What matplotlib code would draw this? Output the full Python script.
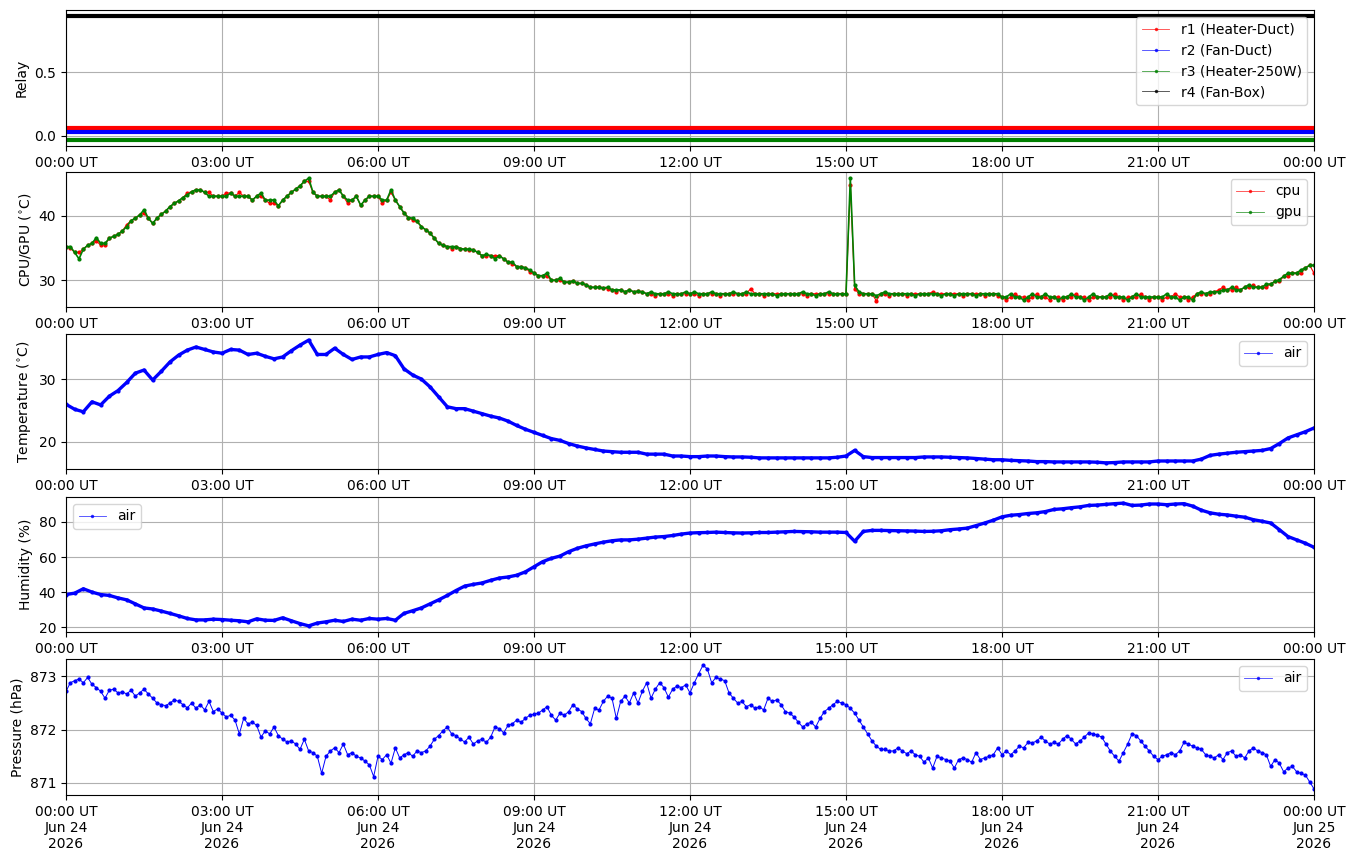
import numpy as np
import pandas as pd
import matplotlib
matplotlib.use("Agg")
import matplotlib.pyplot as plt
import matplotlib.dates as mdates
from matplotlib.lines import Line2D

# ---------------- data ----------------
t5 = pd.date_range("2026-06-24 00:00", "2026-06-25 00:00", freq="5min")
t10 = pd.date_range("2026-06-24 00:00", "2026-06-25 00:00", freq="10min")

relay_r1 = [0] * len(t5)
relay_r2 = [0] * len(t5)
relay_r3 = [0] * len(t5)
relay_r4 = [1] * len(t5)
relay_offsets = [0.06, 0.03, -0.03, -0.06]
relay_labels = ["r1 (Heater-Duct)", "r2 (Fan-Duct)", "r3 (Heater-250W)", "r4 (Fan-Box)"]

cpu = [
    35.2, 35.0, 34.3, 34.3, 34.8, 35.4, 35.7, 36.1, 35.4, 35.5, 36.5, 36.8,
    37.1, 37.6, 38.6, 39.2, 39.6, 40.1, 40.4, 39.6, 38.8, 39.6, 40.2, 40.7,
    41.4, 41.9, 42.3, 42.8, 43.5, 43.7, 44.0, 44.0, 43.6, 43.6, 43.0, 43.0,
    43.0, 43.5, 43.5, 43.0, 43.6, 43.0, 43.0, 42.4, 43.0, 43.0, 42.4, 41.9,
    41.9, 41.5, 42.4, 43.0, 43.6, 44.1, 44.6, 45.3, 45.3, 43.6, 43.0, 43.0,
    43.0, 42.4, 43.6, 44.0, 43.0, 41.9, 42.4, 43.0, 41.6, 42.4, 43.0, 43.0,
    43.0, 41.9, 42.4, 43.6, 42.4, 41.4, 40.4, 39.7, 39.3, 39.1, 38.3, 37.8,
    37.3, 36.5, 35.7, 35.4, 35.2, 34.9, 35.2, 34.9, 34.8, 34.7, 34.7, 34.3,
    33.8, 33.8, 33.8, 33.8, 33.8, 33.3, 32.8, 32.5, 32.1, 32.1, 31.9, 31.3,
    31.1, 30.7, 30.7, 30.7, 30.0, 30.0, 30.0, 29.7, 29.7, 29.9, 29.5, 29.5,
    29.3, 28.9, 28.9, 28.9, 28.8, 28.7, 28.5, 28.2, 28.5, 28.2, 28.5, 28.2,
    28.3, 28.2, 27.9, 27.9, 27.6, 27.9, 27.9, 27.9, 27.6, 27.9, 27.9, 27.9,
    27.9, 27.9, 27.6, 27.9, 27.9, 27.9, 27.9, 27.6, 27.9, 27.9, 27.9, 27.9,
    27.9, 27.9, 28.7, 27.9, 27.9, 27.6, 27.9, 27.9, 27.9, 27.9, 27.9, 27.9,
    27.9, 27.9, 27.9, 27.6, 27.9, 27.9, 27.9, 27.9, 27.9, 27.9, 27.9, 27.9,
    27.9, 44.8, 28.7, 27.9, 27.9, 27.9, 27.9, 26.8, 27.9, 27.9, 27.6, 27.9,
    27.9, 27.9, 27.6, 27.9, 27.9, 27.9, 27.9, 27.9, 28.2, 27.9, 27.9, 27.9,
    27.9, 27.9, 27.9, 27.6, 27.9, 27.9, 27.9, 27.9, 27.6, 27.9, 27.9, 27.6,
    27.4, 26.9, 27.4, 27.9, 27.4, 27.4, 26.9, 27.4, 27.9, 27.4, 27.4, 26.9,
    27.4, 27.4, 26.9, 27.4, 27.4, 27.9, 27.4, 27.4, 26.9, 27.4, 27.4, 27.4,
    27.4, 27.4, 27.9, 27.4, 26.9, 27.4, 27.4, 27.4, 27.9, 27.4, 26.9, 27.4,
    27.4, 26.9, 27.4, 27.4, 27.9, 27.4, 27.4, 26.9, 27.4, 27.9, 27.9, 27.9,
    27.9, 28.2, 28.5, 28.9, 28.5, 28.5, 28.9, 28.5, 28.9, 28.9, 29.2, 28.9,
    28.9, 28.9, 29.4, 29.8, 29.8, 30.6, 30.6, 31.1, 31.1, 31.1, 31.9, 32.3,
    31.1,
]

gpu = [
    35.2, 35.2, 34.3, 33.3, 34.8, 35.4, 35.7, 36.6, 35.7, 35.7, 36.5, 36.8,
    37.1, 37.6, 38.3, 39.2, 39.6, 40.1, 40.9, 39.6, 38.8, 39.6, 40.2, 40.7,
    41.4, 41.9, 42.3, 42.8, 43.2, 43.7, 44.0, 44.0, 43.6, 43.0, 43.0, 43.0,
    43.0, 43.0, 43.5, 43.0, 43.0, 43.0, 43.0, 42.4, 43.0, 43.5, 42.4, 42.4,
    42.4, 41.5, 42.4, 43.0, 43.6, 44.1, 44.6, 45.3, 45.8, 43.6, 43.0, 43.0,
    43.0, 43.0, 43.6, 44.0, 43.0, 42.4, 42.4, 43.0, 41.6, 42.4, 43.0, 43.0,
    43.0, 42.4, 42.4, 44.0, 42.4, 41.4, 40.4, 39.7, 39.6, 39.1, 38.3, 37.8,
    37.3, 36.5, 35.7, 35.4, 35.2, 35.2, 35.2, 34.9, 34.8, 34.8, 34.7, 34.3,
    33.8, 34.0, 33.8, 33.3, 33.8, 33.3, 32.8, 32.8, 32.1, 32.1, 31.9, 31.6,
    31.1, 30.7, 30.7, 31.1, 30.0, 30.0, 30.3, 29.7, 29.7, 29.9, 29.5, 29.5,
    29.3, 28.9, 28.9, 28.9, 28.8, 28.9, 28.5, 28.5, 28.5, 28.2, 28.5, 28.2,
    28.3, 28.2, 27.9, 28.2, 27.9, 27.9, 27.9, 28.2, 27.9, 27.9, 27.9, 28.2,
    27.9, 28.2, 27.9, 27.9, 27.9, 28.2, 27.9, 27.9, 27.9, 27.9, 28.2, 27.9,
    27.9, 28.2, 27.9, 27.9, 27.9, 27.9, 27.9, 27.9, 27.6, 27.9, 27.9, 27.9,
    27.9, 27.9, 28.2, 27.9, 27.9, 27.6, 27.9, 27.9, 28.2, 27.9, 27.9, 27.9,
    27.9, 45.8, 29.2, 28.2, 27.9, 27.9, 27.9, 27.6, 27.9, 28.2, 27.9, 27.9,
    27.9, 27.9, 27.9, 27.9, 27.6, 27.9, 27.9, 27.9, 27.9, 27.9, 27.6, 27.9,
    27.9, 27.6, 27.9, 27.9, 27.9, 27.9, 27.6, 27.9, 27.9, 27.9, 27.9, 27.9,
    27.4, 27.4, 27.9, 27.4, 27.4, 26.9, 27.4, 27.9, 27.4, 27.4, 27.9, 27.4,
    27.4, 26.9, 27.4, 27.4, 27.9, 27.4, 27.4, 26.9, 27.4, 27.9, 27.4, 27.4,
    27.4, 27.9, 27.4, 27.4, 27.4, 26.9, 27.4, 27.9, 27.4, 27.4, 27.4, 27.4,
    27.4, 27.4, 27.9, 27.4, 27.4, 26.9, 27.4, 27.4, 26.9, 27.9, 28.2, 27.9,
    28.2, 28.2, 28.2, 28.5, 28.5, 28.9, 28.5, 28.5, 28.9, 29.3, 28.9, 28.9,
    28.9, 29.4, 29.4, 29.8, 30.1, 30.6, 31.1, 31.1, 31.1, 31.6, 31.9, 32.3,
    32.3,
]

air_temp = [
    26.0, 25.2, 24.8, 26.4, 25.9, 27.3,
    28.2, 29.5, 31.0, 31.5, 29.9, 31.3,
    32.8, 33.9, 34.7, 35.2, 34.8, 34.4,
    34.2, 34.8, 34.7, 34.0, 34.2, 33.7,
    33.3, 33.6, 34.6, 35.5, 36.3, 34.0,
    34.0, 35.0, 34.0, 33.2, 33.6, 33.6,
    34.0, 34.3, 33.8, 31.7, 30.7, 30.05,
    28.8, 27.2, 25.6, 25.3, 25.3, 24.9,
    24.5, 24.1, 23.8, 23.3, 22.6, 22.0,
    21.5, 21.0, 20.5, 20.2, 19.7, 19.3,
    19.0, 18.75, 18.5, 18.4, 18.3, 18.3,
    18.3, 18.0, 18.0, 18.0, 17.7, 17.7,
    17.6, 17.6, 17.7, 17.7, 17.6, 17.55,
    17.55, 17.5, 17.4, 17.4, 17.4, 17.4,
    17.4, 17.4, 17.4, 17.4, 17.4, 17.5,
    17.7, 18.6, 17.6, 17.45, 17.45, 17.45,
    17.45, 17.45, 17.45, 17.55, 17.55, 17.55,
    17.5, 17.45, 17.4, 17.3, 17.2, 17.1,
    17.1, 17.0, 16.95, 16.9, 16.8, 16.8,
    16.75, 16.75, 16.75, 16.75, 16.75, 16.7,
    16.6, 16.65, 16.75, 16.75, 16.75, 16.75,
    16.9, 16.9, 16.9, 16.9, 16.9, 17.2,
    17.8, 18.0, 18.15, 18.3, 18.4, 18.5,
    18.6, 18.9, 19.7, 20.6, 21.1, 21.6,
    22.2,
]

air_humidity = [
    38.7, 39.5, 42.0, 40.1, 38.7, 38.2,
    36.8, 35.7, 33.4, 31.1, 30.5, 29.3,
    28.0, 26.6, 25.1, 24.3, 24.3, 24.7,
    24.5, 24.1, 23.8, 23.2, 24.9, 24.1,
    24.0, 25.5, 23.8, 22.2, 20.9, 22.5,
    23.2, 24.1, 23.4, 24.7, 24.1, 25.1,
    24.7, 25.1, 24.1, 28.0, 29.5, 31.1,
    33.4, 35.7, 38.2, 41.0, 43.5, 44.5,
    45.3, 46.8, 48.1, 48.7, 49.7, 51.6,
    54.5, 57.4, 59.3, 60.6, 63.1, 65.0,
    66.4, 67.5, 68.5, 69.3, 69.8, 69.8,
    70.2, 70.8, 71.4, 71.7, 72.3, 73.1,
    73.7, 73.9, 74.0, 74.2, 74.0, 73.8,
    73.7, 73.8, 74.0, 74.0, 74.2, 74.4,
    74.6, 74.5, 74.4, 74.2, 74.2, 74.2,
    74.0, 69.0, 74.6, 75.2, 75.2, 75.1,
    75.0, 74.9, 74.8, 74.6, 74.7, 75.0,
    75.6, 76.0, 76.5, 77.9, 79.4, 81.0,
    82.9, 83.8, 84.2, 84.8, 85.2, 85.9,
    87.1, 87.5, 88.1, 88.6, 89.4, 89.6,
    90.0, 90.4, 90.7, 89.4, 89.6, 90.2,
    90.2, 89.8, 90.2, 90.4, 89.0, 86.7,
    85.2, 84.4, 84.0, 83.3, 82.7, 81.3,
    80.4, 79.4, 75.6, 71.7, 69.8, 67.9,
    65.6,
]

air_pressure = [
    872.72, 872.88, 872.92, 872.95, 872.88, 872.98, 872.85, 872.79, 872.72, 872.59, 872.74, 872.76,
    872.69, 872.71, 872.67, 872.74, 872.63, 872.69, 872.76, 872.67, 872.59, 872.50, 872.47, 872.45,
    872.50, 872.56, 872.53, 872.47, 872.41, 872.50, 872.40, 872.47, 872.37, 872.53, 872.34, 872.39,
    872.31, 872.24, 872.27, 872.18, 871.92, 872.21, 872.11, 872.14, 872.08, 871.86, 871.98, 871.92,
    872.05, 871.89, 871.82, 871.77, 871.79, 871.73, 871.63, 871.82, 871.60, 871.57, 871.50, 871.18,
    871.50, 871.60, 871.66, 871.57, 871.73, 871.53, 871.57, 871.50, 871.47, 871.41, 871.34, 871.12,
    871.50, 871.44, 871.53, 871.37, 871.66, 871.47, 871.53, 871.57, 871.50, 871.60, 871.57, 871.60,
    871.69, 871.82, 871.89, 871.98, 872.05, 871.92, 871.89, 871.82, 871.77, 871.86, 871.73, 871.79,
    871.82, 871.76, 871.86, 872.05, 872.02, 871.94, 872.08, 872.11, 872.18, 872.14, 872.21, 872.27,
    872.29, 872.31, 872.37, 872.43, 872.27, 872.18, 872.31, 872.27, 872.34, 872.47, 872.39, 872.34,
    872.21, 872.11, 872.40, 872.37, 872.53, 872.63, 872.59, 872.21, 872.53, 872.63, 872.50, 872.69,
    872.50, 872.72, 872.88, 872.59, 872.76, 872.88, 872.79, 872.61, 872.76, 872.82, 872.79, 872.84,
    872.69, 872.88, 873.05, 873.21, 873.14, 872.88, 872.98, 872.95, 872.92, 872.69, 872.59, 872.50,
    872.53, 872.43, 872.47, 872.40, 872.43, 872.37, 872.59, 872.53, 872.56, 872.47, 872.34, 872.31,
    872.24, 872.14, 872.05, 872.11, 872.14, 872.05, 872.21, 872.34, 872.40, 872.47, 872.53, 872.50,
    872.47, 872.40, 872.31, 872.18, 872.05, 871.92, 871.79, 871.69, 871.63, 871.63, 871.60, 871.60,
    871.66, 871.60, 871.55, 871.60, 871.53, 871.50, 871.39, 871.47, 871.28, 871.50, 871.47, 871.44,
    871.41, 871.28, 871.44, 871.47, 871.44, 871.39, 871.57, 871.44, 871.47, 871.50, 871.53, 871.66,
    871.53, 871.60, 871.53, 871.60, 871.69, 871.66, 871.76, 871.75, 871.79, 871.86, 871.79, 871.73,
    871.76, 871.73, 871.82, 871.89, 871.82, 871.73, 871.79, 871.86, 871.94, 871.92, 871.90, 871.86,
    871.73, 871.60, 871.50, 871.41, 871.57, 871.73, 871.92, 871.89, 871.79, 871.69, 871.60, 871.50,
    871.44, 871.50, 871.53, 871.57, 871.53, 871.60, 871.76, 871.73, 871.69, 871.66, 871.63, 871.53,
    871.50, 871.47, 871.53, 871.44, 871.57, 871.60, 871.50, 871.53, 871.47, 871.60, 871.66, 871.60,
    871.57, 871.53, 871.31, 871.44, 871.37, 871.21, 871.28, 871.31, 871.21, 871.18, 871.15, 871.02,
    870.89,
]

# ---------------- figure ----------------
W, H = 1355, 861
fig = plt.figure(figsize=(W / 100, H / 100), dpi=100)

left = 66 / W
width = (1314 - 66) / W
panels_px = [(10, 146), (172, 307), (334, 469), (497, 632), (659, 795)]
axes = []
for top, bot in panels_px:
    axes.append(fig.add_axes([left, 1 - bot / H, width, (bot - top) / H]))


def handle(col, lab):
    # legend sample: thin line with a small point marker
    return Line2D([], [], color=col, marker=".", linestyle="-", linewidth=0.6,
                  markersize=3, alpha=0.75, label=lab)


# Relay (dense constant traces look like solid thick bands)
ax = axes[0]
hs = []
for vals, off, col, lab in zip([relay_r1, relay_r2, relay_r3, relay_r4], relay_offsets,
                               ["r", "b", "g", "k"], relay_labels):
    ax.plot(t5, np.asarray(vals) + off, color=col, linewidth=3.0, solid_capstyle="butt")
    hs.append(handle(col, lab))
ax.set_ylabel("Relay")
ax.legend(handles=hs, loc="upper right")

# CPU / GPU
ax = axes[1]
ax.plot(t5, cpu, color="r", marker=".", linestyle="-", linewidth=0.8, markersize=4)
ax.plot(t5, gpu, color="g", marker=".", linestyle="-", linewidth=1.2, markersize=4)
ax.set_ylabel(r"CPU/GPU ($^{\circ}$C)")
ax.legend(handles=[handle("r", "cpu"), handle("g", "gpu")], loc="upper right")

# Temperature
ax = axes[2]
ax.plot(t10, air_temp, color="b", marker=".", linestyle="-", linewidth=2.4, markersize=4)
ax.set_ylabel(r"Temperature ($^{\circ}$C)")
ax.legend(handles=[handle("b", "air")], loc="upper right")

# Humidity
ax = axes[3]
ax.plot(t10, air_humidity, color="b", marker=".", linestyle="-", linewidth=2.4, markersize=4)
ax.set_ylabel("Humidity (%)")
ax.legend(handles=[handle("b", "air")], loc="upper left")

# Pressure
ax = axes[4]
ax.plot(t5, air_pressure, color="b", marker=".", linestyle="-", linewidth=0.7, markersize=4)
ax.set_ylabel("Pressure (hPa)")
ax.legend(handles=[handle("b", "air")], loc="upper right")

x0 = pd.Timestamp("2026-06-24 00:00")
x1 = pd.Timestamp("2026-06-25 00:00")
for i, ax in enumerate(axes):
    ax.set_xlim(x0, x1)
    ax.xaxis.set_major_locator(mdates.HourLocator(byhour=range(0, 24, 3)))
    if i == len(axes) - 1:
        ax.xaxis.set_major_formatter(mdates.DateFormatter("%H:%M UT\n%b %d\n%Y"))
    else:
        ax.xaxis.set_major_formatter(mdates.DateFormatter("%H:%M UT"))
    ax.grid(True)

fig.savefig("out.png", dpi=100)
